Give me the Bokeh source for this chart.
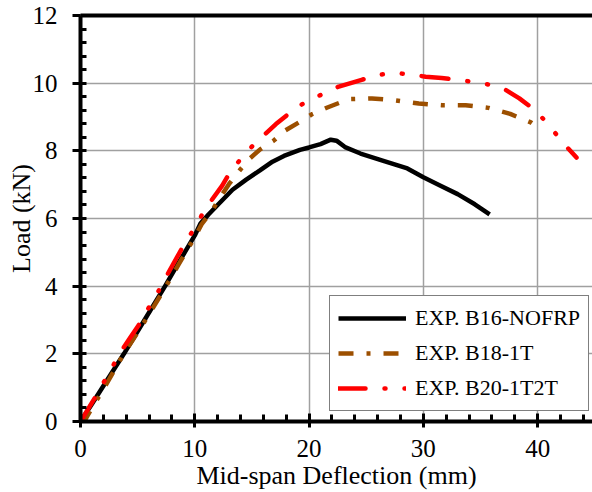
from bokeh.plotting import figure
from bokeh.models import Range1d, FixedTicker, LinearAxis, Legend, LegendItem
from bokeh.embed import file_html
from bokeh.resources import INLINE

# ---- data ----
b16_x = [0, 1, 2, 3.8, 5.6, 7.4, 8.6, 9.3, 10, 10.5, 11.2, 12, 13.3, 14.5, 15.7, 16.8,
         17.8, 19.2, 20, 21, 21.9, 22.4, 23.2, 24.5, 26.5, 28.6, 30, 31.5, 33, 34.5, 35.8]
b16_y = [0, 0.52, 1.05, 2.0, 3.0, 4.0, 4.7, 5.1, 5.5, 5.85, 6.12, 6.4, 6.85, 7.15, 7.42, 7.68,
         7.85, 8.03, 8.1, 8.2, 8.33, 8.3, 8.1, 7.92, 7.7, 7.48, 7.22, 6.97, 6.72, 6.42, 6.12]

b18_x = [0, 0.4, 1, 2, 3.7, 5.6, 7.4, 8.6, 10, 10.6, 11.5, 12.25, 13, 13.9, 14.7, 15.75,
         16.9, 17.9, 19.1, 20.3, 21.6, 23.5, 25.5, 27.4, 29.6, 31.6, 33.7, 35.7, 37.6, 39.4, 40.1]
b18_y = [0, 0.05, 0.4, 0.95, 1.95, 2.95, 3.95, 4.65, 5.45, 5.83, 6.23, 6.64, 7.02, 7.41, 7.74, 8.05,
         8.3, 8.6, 8.84, 9.09, 9.28, 9.53, 9.55, 9.5, 9.4, 9.35, 9.35, 9.27, 9.09, 8.84, 8.67]

b20_x = [0, 1.3, 2.1, 2.8, 3.5, 4.3, 5.1, 5.8, 6.6, 7.3, 8.6, 9.3, 10.1, 10.9, 12.4, 13.1,
         14.1, 15.2, 17.1, 18.2, 19.4, 20.7, 22.6, 24.6, 26.1, 27.6, 29.0, 30.2, 31.6, 33.2,
         34.7, 36.2, 37.2, 38.4, 39.7, 40.7, 42.4, 43.4]
b20_y = [0, 0.72, 1.2, 1.62, 2.05, 2.45, 2.85, 3.27, 3.71, 4.16, 4.95, 5.36, 5.78, 6.28, 6.97, 7.38,
         7.79, 8.2, 8.79, 9.09, 9.38, 9.6, 9.9, 10.1, 10.25, 10.3, 10.25, 10.19, 10.15, 10.09,
         10.02, 9.93, 9.8, 9.55, 9.22, 8.87, 8.17, 7.8]

series_labels = ["EXP. B16-NOFRP", "EXP. B18-1T", "EXP. B20-1T2T"]
x_ticks = [0, 10, 20, 30, 40]
y_ticks = [0, 2, 4, 6, 8, 10, 12]
x_minor = [i * 2 for i in range(23)]
y_minor = [round(i * 0.4, 2) for i in range(31)]

FONT = "Liberation Serif"

p = figure(width=592, height=492, x_range=Range1d(0, 44.8), y_range=Range1d(0, 12),
           output_backend="svg", toolbar_location=None,
           min_border_left=80, min_border_right=0, min_border_top=15, min_border_bottom=71)
p.outline_line_color = None
p.background_fill_color = "white"
p.border_fill_color = "white"

# axes
p.xaxis.ticker = FixedTicker(ticks=x_ticks, minor_ticks=x_minor)
p.yaxis.ticker = FixedTicker(ticks=y_ticks, minor_ticks=y_minor)
for ax in (p.xaxis[0], p.yaxis[0]):
    ax.axis_line_width = 4
    ax.axis_line_color = "black"
    ax.major_tick_line_width = 3
    ax.minor_tick_line_width = 3
    ax.major_tick_line_color = "black"
    ax.minor_tick_line_color = "black"
    ax.major_label_text_font = FONT
    ax.major_label_text_font_size = "25px"
    ax.major_label_text_color = "black"
    ax.axis_label_text_font = FONT
    ax.axis_label_text_font_size = "26px"
    ax.axis_label_text_font_style = "normal"
    ax.axis_label_text_color = "black"

p.xaxis.axis_label = "Mid-span Deflection (mm)"
p.yaxis.axis_label = "Load (kN)"
p.xaxis.major_tick_in = 8
p.xaxis.major_tick_out = 6
p.xaxis.minor_tick_in = 7
p.xaxis.minor_tick_out = 0
p.xaxis.major_label_standoff = 12
p.xaxis.axis_label_standoff = 1
p.yaxis.major_tick_in = 0
p.yaxis.major_tick_out = 8
p.yaxis.minor_tick_in = 6
p.yaxis.minor_tick_out = 0
p.yaxis.major_label_standoff = 15
p.yaxis.axis_label_standoff = -6

# top border
top = LinearAxis(ticker=FixedTicker(ticks=[]), axis_line_width=4, axis_line_color="black",
                 major_label_text_font_size="0px", major_tick_line_color=None,
                 minor_tick_line_color=None)
p.add_layout(top, "above")

# grid
p.xgrid.grid_line_color = "#a0a0a0"
p.ygrid.grid_line_color = "#a0a0a0"
p.xgrid.grid_line_width = 1.5
p.ygrid.grid_line_width = 1.5

# series
r1 = p.line(b16_x, b16_y, line_color="black", line_width=4.5, line_join="round")
r2 = p.line(b18_x, b18_y, line_color="#9c4f00", line_width=4.5, line_dash="15 13 4 13",
            line_cap="butt")
r3 = p.line(b20_x, b20_y, line_color="#ff0000", line_width=4.5, line_dash="27 19 1 19 1 19",
            line_cap="round")

legend = Legend(items=[LegendItem(label=series_labels[0], renderers=[r1]),
                       LegendItem(label=series_labels[1], renderers=[r2]),
                       LegendItem(label=series_labels[2], renderers=[r3])],
                location=(249, 10))
legend.label_text_font = FONT
legend.label_text_font_size = "22px"
legend.label_text_color = "black"
legend.glyph_width = 68
legend.glyph_height = 28
legend.label_height = 28
legend.spacing = 7
legend.padding = 8
legend.label_standoff = 9
legend.border_line_color = "black"
legend.border_line_width = 1.5
legend.background_fill_alpha = 1
legend.margin = 0
p.add_layout(legend)

open("out.html", "w").write(file_html(p, INLINE))
